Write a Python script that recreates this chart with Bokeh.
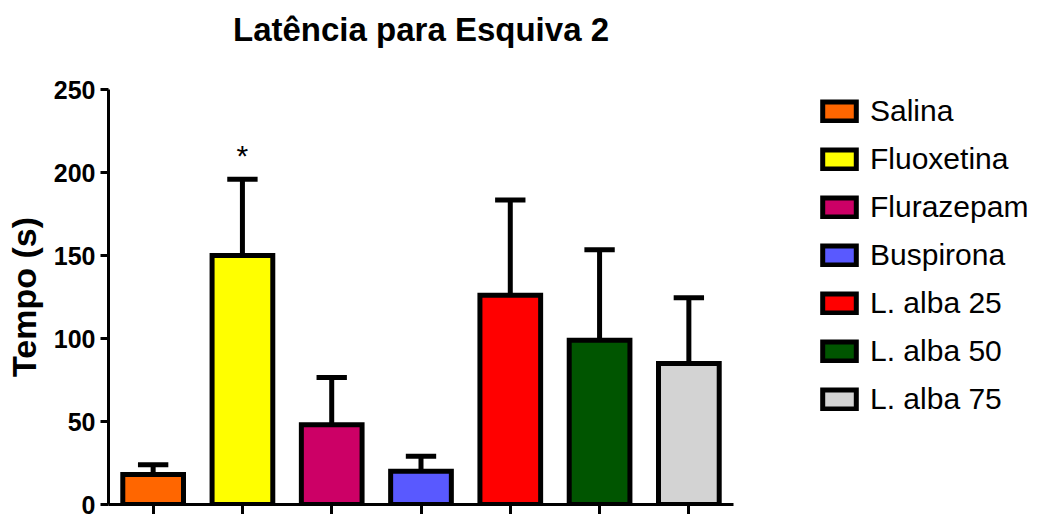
from bokeh.plotting import figure
from bokeh.models import ColumnDataSource, Range1d, FixedTicker, Legend, LegendItem
from bokeh.core.properties import value
from bokeh.embed import file_html
from bokeh.resources import INLINE

# Groups, mean latency (s) and upper error bar (mean + SEM)
groups = ["Salina", "Fluoxetina", "Flurazepam", "Buspirona", "L. alba 25", "L. alba 50", "L. alba 75"]
means = [18, 150, 48, 20, 126, 99, 85]
sem = [6, 46, 28.5, 9, 57.5, 54.5, 39.5]
colors = ["#FF6600", "#FFFF00", "#CC0066", "#5959FF", "#FF0000", "#005500", "#D3D3D3"]
y_ticks = [0, 50, 100, 150, 200, 250]
significant = ["Fluoxetina"]

xs = list(range(len(groups)))
tops = [m + s for m, s in zip(means, sem)]
cap_half = 0.17

src = ColumnDataSource(dict(x=xs, top=means, group=groups, color=colors))
err = ColumnDataSource(dict(x=xs, y0=means, y1=tops,
                            cx0=[x - cap_half for x in xs], cx1=[x + cap_half for x in xs]))

p = figure(frame_width=625, frame_height=415, output_backend="svg", toolbar_location=None,
           x_range=Range1d(-0.5, 6.5), y_range=Range1d(0, 250),
           min_border_left=108, min_border_right=0, min_border_top=89, min_border_bottom=0)

p.title.text = "Latência para Esquiva 2"
p.title.text_font = "Liberation Sans"
p.title.text_font_size = "33px"
p.title.text_font_style = "bold"
p.title.text_color = "black"
p.title.align = "center"
p.title.standoff = 10
p.title.padding = dict(left=0, right=0, top=0, bottom=37)

p.grid.visible = False
p.outline_line_color = None
p.background_fill_color = "white"

# error bars (upper only)
p.segment(x0="x", y0="y0", x1="x", y1="y1", source=err, line_color="black", line_width=5, line_cap="butt")
p.segment(x0="cx0", y0="y1", x1="cx1", y1="y1", source=err, line_color="black", line_width=5, line_cap="butt")

bars = p.vbar(x="x", top="top", bottom=0, width=0.68, source=src, fill_color="color",
              line_color="black", line_width=5, line_join="miter")

for g in significant:
    i = groups.index(g)
    p.text(x=[xs[i]], y=[tops[i] + 14], text=["*"], text_align="center", text_baseline="alphabetic",
           text_font=value("Liberation Sans"), text_font_size="30px", text_color="black")

# axes
p.yaxis.ticker = FixedTicker(ticks=y_ticks)
p.yaxis.axis_label = "Tempo (s)"
p.yaxis.axis_label_text_font = "Liberation Sans"
p.yaxis.axis_label_text_font_size = "34px"
p.yaxis.axis_label_text_font_style = "bold"
p.yaxis.axis_label_text_color = "black"
p.yaxis.axis_label_standoff = 8
p.yaxis.major_label_text_font = "Liberation Sans"
p.yaxis.major_label_text_font_size = "25px"
p.yaxis.major_label_text_font_style = "bold"
p.yaxis.major_label_text_color = "black"
p.yaxis.major_label_standoff = 5
p.yaxis.axis_line_width = 3
p.yaxis.major_tick_line_width = 3
p.yaxis.major_tick_out = 8
p.yaxis.major_tick_in = 0
p.yaxis.minor_tick_line_color = None

p.xaxis.ticker = FixedTicker(ticks=xs)
p.xaxis.major_label_overrides = {x: "" for x in xs}
p.xaxis.major_label_standoff = 0
p.xaxis.axis_line_width = 3
p.xaxis.major_tick_line_width = 3
p.xaxis.major_tick_out = 10
p.xaxis.major_tick_in = 0
p.xaxis.minor_tick_line_color = None

items = [LegendItem(label=g, renderers=[bars], index=i) for i, g in enumerate(groups)]
legend = Legend(items=items, location=(85, 88))
legend.label_text_font = "Liberation Sans"
legend.label_text_font_size = "30px"
legend.label_text_color = "black"
legend.glyph_width = 42
legend.glyph_height = 24
legend.label_height = 24
legend.label_standoff = 10
legend.spacing = 14
legend.padding = 0
legend.margin = 0
legend.border_line_color = None
legend.background_fill_alpha = 0
p.add_layout(legend, "right")

open("out.html", "w").write(file_html(p, INLINE))
